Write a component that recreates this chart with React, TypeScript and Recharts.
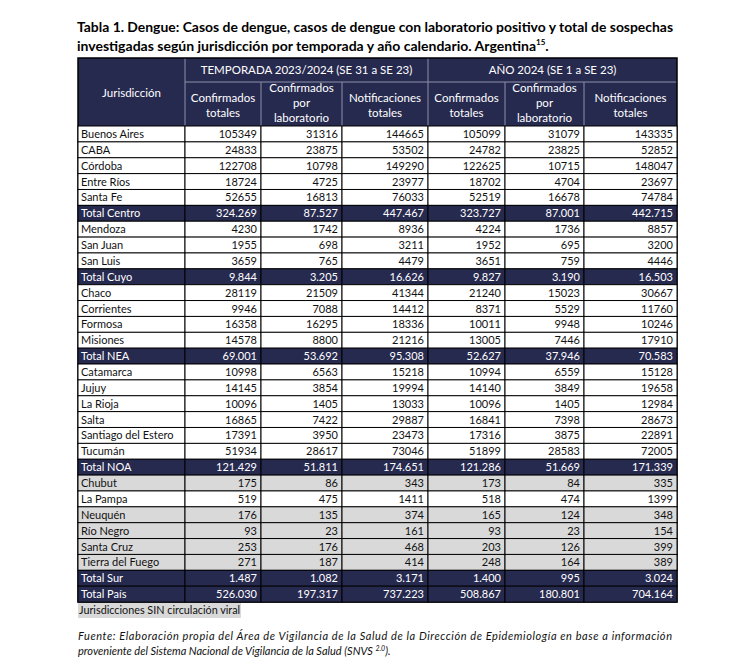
import React from 'react';
import { ComposedChart, Bar, XAxis, YAxis, Customized } from 'recharts';

const jurisdicciones = [
  'Buenos Aires', 'CABA', 'Córdoba', 'Entre Ríos', 'Santa Fe', 'Total Centro',
  'Mendoza', 'San Juan', 'San Luis', 'Total Cuyo',
  'Chaco', 'Corrientes', 'Formosa', 'Misiones', 'Total NEA',
  'Catamarca', 'Jujuy', 'La Rioja', 'Salta', 'Santiago del Estero', 'Tucumán', 'Total NOA',
  'Chubut', 'La Pampa', 'Neuquén', 'Río Negro', 'Santa Cruz', 'Tierra del Fuego', 'Total Sur',
  'Total País'
];

// jurisdicciones sin circulación viral (fondo gris)
const sinCirculacion = ['Chubut', 'Neuquén', 'Río Negro', 'Santa Cruz', 'Tierra del Fuego'];

const tempConfirmados = [105349, 24833, 122708, 18724, 52655, 324269, 4230, 1955, 3659, 9844, 28119, 9946, 16358, 14578, 69001, 10998, 14145, 10096, 16865, 17391, 51934, 121429, 175, 519, 176, 93, 253, 271, 1487, 526030];
const tempLaboratorio = [31316, 23875, 10798, 4725, 16813, 87527, 1742, 698, 765, 3205, 21509, 7088, 16295, 8800, 53692, 6563, 3854, 1405, 7422, 3950, 28617, 51811, 86, 475, 135, 23, 176, 187, 1082, 197317];
const tempNotificaciones = [144665, 53502, 149290, 23977, 76033, 447467, 8936, 3211, 4479, 16626, 41344, 14412, 18336, 21216, 95308, 15218, 19994, 13033, 29887, 23473, 73046, 174651, 343, 1411, 374, 161, 468, 414, 3171, 737223];
const anioConfirmados = [105099, 24782, 122625, 18702, 52519, 323727, 4224, 1952, 3651, 9827, 21240, 8371, 10011, 13005, 52627, 10994, 14140, 10096, 16841, 17316, 51899, 121286, 173, 518, 165, 93, 203, 248, 1400, 508867];
const anioLaboratorio = [31079, 23825, 10715, 4704, 16678, 87001, 1736, 695, 759, 3190, 15023, 5529, 9948, 7446, 37946, 6559, 3849, 1405, 7398, 3875, 28583, 51669, 84, 474, 124, 23, 126, 164, 995, 180801];
const anioNotificaciones = [143335, 52852, 148047, 23697, 74784, 442715, 8857, 3200, 4446, 16503, 30667, 11760, 10246, 17910, 70583, 15128, 19658, 12984, 28673, 22891, 72005, 171339, 335, 1399, 348, 154, 399, 389, 3024, 704164];

const grupos = ['TEMPORADA 2023/2024 (SE 31 a SE 23)', 'AÑO 2024 (SE 1 a SE 23)'];
const subHeaders = [
  ['Confirmados', 'totales'],
  ['Confirmados', 'por', 'laboratorio'],
  ['Notificaciones', 'totales'],
];

const rows = jurisdicciones.map((name, i) => ({
  name,
  vals: [tempConfirmados[i], tempLaboratorio[i], tempNotificaciones[i], anioConfirmados[i], anioLaboratorio[i], anioNotificaciones[i]],
}));

// layout
const EDGES = [78, 185, 261, 342, 428, 505, 584, 677];
const COL_W = EDGES.slice(1).map((e, i) => e - EDGES[i]);
const TABLE_W = EDGES[7] - EDGES[0];
const TOP = 58;
const MID = 82;
const BODY_TOP = 126;
const BODY_BOTTOM = 602;
const NAVY = '#272a4f';
const GRAY = '#d9d9d9';
const FONT = 'Lato, "Open Sans", sans-serif';

const fmt = (v: number, total: boolean) =>
  total ? String(v).replace(/\B(?=(\d{3})+(?!\d))/g, '.') : String(v);

const CellShape = (props: any) => {
  const { x, y, width, height, payload, col } = props;
  const total = payload.name.startsWith('Total');
  const gray = sinCirculacion.includes(payload.name);
  const fill = total ? NAVY : gray ? GRAY : '#ffffff';
  const color = total ? '#ffffff' : '#111111';
  const text = col === 0 ? payload.name : fmt(payload.vals[col - 1], total);
  return (
    <g>
      <rect x={x} y={y} width={width} height={height} fill={fill} stroke="#000" strokeWidth={1} />
      <text
        x={col === 0 ? x + 3 : x + width - 4}
        y={y + height / 2 + 4}
        textAnchor={col === 0 ? 'start' : 'end'}
        fontSize={11}
        fontFamily={FONT}
        fill={color}
      >
        {text}
      </text>
    </g>
  );
};

const Frame = () => {
  const hdrLine = '#8d8fa8';
  const white = { fill: '#fff', fontFamily: FONT, fontSize: 11.5 } as const;
  return (
    <g>
      {/* title */}
      <text x={77} y={32} fontFamily={FONT} fontWeight={700} fontSize={14} fill="#000" textLength={596} lengthAdjust="spacingAndGlyphs">
        Tabla 1. Dengue: Casos de dengue, casos de dengue con laboratorio positivo y total de sospechas
      </text>
      <text x={77} y={51} fontFamily={FONT} fontWeight={700} fontSize={14} fill="#000">
        <tspan textLength={459} lengthAdjust="spacingAndGlyphs">investigadas según jurisdicción por temporada y año calendario. Argentina</tspan>
        <tspan fontSize={8} dy={-6}>15</tspan>
        <tspan dy={6}>.</tspan>
      </text>

      {/* header */}
      <rect x={EDGES[0]} y={TOP} width={TABLE_W} height={BODY_TOP - TOP} fill={NAVY} />
      <line x1={EDGES[1]} x2={EDGES[7]} y1={MID} y2={MID} stroke={hdrLine} />
      {EDGES.slice(1, 7).map((e, i) => (
        <line key={i} x1={e} x2={e} y1={i === 0 || i === 3 ? TOP : MID} y2={BODY_TOP} stroke={hdrLine} />
      ))}
      <text x={(EDGES[0] + EDGES[1]) / 2} y={97} textAnchor="middle" {...white}>Jurisdicción</text>
      <text x={(EDGES[1] + EDGES[4]) / 2} y={74} textAnchor="middle" {...white}>{grupos[0]}</text>
      <text x={(EDGES[4] + EDGES[7]) / 2} y={74} textAnchor="middle" {...white}>{grupos[1]}</text>
      {[0, 1, 2, 3, 4, 5].map((c) => {
        const lines = subHeaders[c % 3];
        const cx = (EDGES[c + 1] + EDGES[c + 2]) / 2;
        const startY = lines.length === 3 ? 92 : 102;
        return lines.map((l, j) => (
          <text key={`${c}-${j}`} x={cx} y={startY + j * 15} textAnchor="middle" {...white}>{l}</text>
        ));
      })}
      <rect x={EDGES[0]} y={TOP} width={TABLE_W} height={BODY_BOTTOM - TOP} fill="none" stroke="#000" strokeWidth={1.5} />

      {/* notes */}
      <rect x={78} y={603} width={163} height={15} fill={GRAY} />
      <text x={79} y={614} fontFamily={FONT} fontSize={10.8} fill="#111">Jurisdicciones SIN circulación viral</text>
      <text x={78} y={640} fontFamily={FONT} fontStyle="italic" fontSize={11} fill="#111" textLength={594} lengthAdjust="spacing">
        Fuente: Elaboración propia del Área de Vigilancia de la Salud de la Dirección de Epidemiología en base a información
      </text>
      <text x={78} y={655} fontFamily={FONT} fontStyle="italic" fontSize={11} fill="#111">
        proveniente del Sistema Nacional de Vigilancia de la Salud (SNVS <tspan fontSize={7} dy={-4}>2.0</tspan><tspan dy={4}>).</tspan>
      </text>
    </g>
  );
};

export default function App() {
  return (
    <div style={{ position: 'absolute', left: 0, top: 0, width: 739, height: 668, background: '#fff' }}>
      <ComposedChart
        width={739}
        height={668}
        layout="vertical"
        data={rows}
        margin={{ top: BODY_TOP, bottom: 668 - BODY_BOTTOM, left: EDGES[0], right: 739 - EDGES[7] }}
        barCategoryGap={0}
        barGap={0}
      >
        <XAxis type="number" hide domain={[0, TABLE_W]} />
        <YAxis type="category" dataKey="name" hide />
        {COL_W.map((w, i) => (
          <Bar
            key={i}
            dataKey={() => w}
            stackId="tabla"
            isAnimationActive={false}
            shape={(p: any) => <CellShape {...p} col={i} />}
          />
        ))}
        <Customized component={<Frame />} />
      </ComposedChart>
    </div>
  );
}
